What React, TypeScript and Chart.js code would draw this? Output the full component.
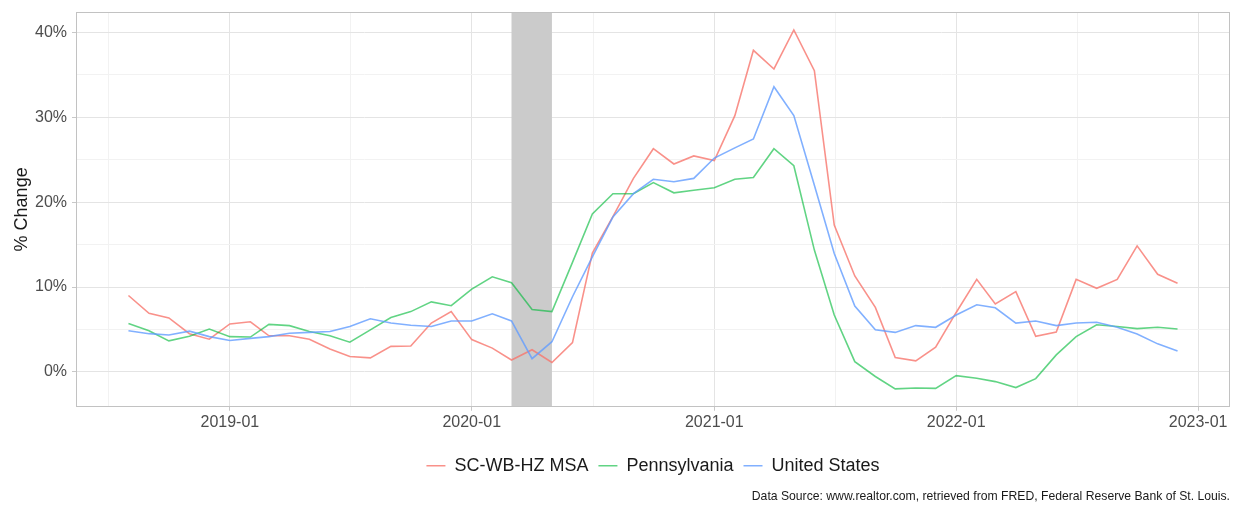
import React, { useEffect, useRef } from 'react';
import { Chart, registerables } from 'chart.js';

Chart.register(...registerables);

// ---- Data (monthly year-over-year % change) ----
const months = [
  '2018-08', '2018-09', '2018-10', '2018-11', '2018-12',
  '2019-01', '2019-02', '2019-03', '2019-04', '2019-05', '2019-06',
  '2019-07', '2019-08', '2019-09', '2019-10', '2019-11', '2019-12',
  '2020-01', '2020-02', '2020-03', '2020-04', '2020-05', '2020-06',
  '2020-07', '2020-08', '2020-09', '2020-10', '2020-11', '2020-12',
  '2021-01', '2021-02', '2021-03', '2021-04', '2021-05', '2021-06',
  '2021-07', '2021-08', '2021-09', '2021-10', '2021-11', '2021-12',
  '2022-01', '2022-02', '2022-03', '2022-04', '2022-05', '2022-06',
  '2022-07', '2022-08', '2022-09', '2022-10', '2022-11', '2022-12',
];

const msaValues = [
  9.0, 6.9, 6.35, 4.5, 3.85,
  5.65, 5.9, 4.25, 4.25, 3.85, 2.7,
  1.8, 1.65, 3.0, 3.05, 5.75, 7.1,
  3.8, 2.8, 1.4, 2.6, 1.1, 3.45,
  14.0, 18.3, 22.8, 26.3, 24.5, 25.45,
  24.9, 30.2, 37.9, 35.7, 40.3, 35.5,
  17.3, 11.3, 7.6, 1.7, 1.3, 2.9,
  7.0, 10.9, 8.0, 9.45, 4.2, 4.7,
  10.9, 9.85, 10.9, 14.85, 11.5, 10.45,
];

const paValues = [
  5.7, 4.85, 3.65, 4.2, 5.05,
  4.15, 4.1, 5.6, 5.45, 4.75, 4.25,
  3.5, 4.95, 6.4, 7.1, 8.25, 7.8,
  9.75, 11.2, 10.5, 7.35, 7.1, 12.9,
  18.6, 21.0, 21.0, 22.3, 21.1, 21.4,
  21.7, 22.7, 22.9, 26.3, 24.3, 14.35,
  6.7, 1.2, -0.55, -2.0, -1.9, -1.95,
  -0.45, -0.75, -1.15, -1.85, -0.8, 2.0,
  4.15, 5.55, 5.35, 5.1, 5.25, 5.05,
];

const usValues = [
  4.85, 4.5, 4.35, 4.8, 4.15,
  3.7, 3.95, 4.15, 4.55, 4.65, 4.75,
  5.35, 6.25, 5.75, 5.5, 5.35, 6.0,
  6.0, 6.85, 6.0, 1.55, 3.55, 8.85,
  13.55, 18.25, 21.0, 22.7, 22.4, 22.8,
  25.2, 26.4, 27.45, 33.6, 30.2, 22.0,
  13.95, 7.75, 4.95, 4.65, 5.45, 5.25,
  6.7, 7.9, 7.55, 5.75, 6.0, 5.45,
  5.75, 5.85, 5.25, 4.45, 3.3, 2.45,
];

const seriesNames = ['SC-WB-HZ MSA', 'Pennsylvania', 'United States'];
const seriesColors = ['rgba(248,118,109,0.8)', 'rgba(0,186,56,0.62)', 'rgba(97,156,255,0.8)'];

const xTickDates = ['2019-01', '2020-01', '2021-01', '2022-01', '2023-01'];
const xTickLabels = ['2019-01', '2020-01', '2021-01', '2022-01', '2023-01'];
const yMajorTicks = [0, 10, 20, 30, 40];
const yMinorTicks = [5, 15, 25, 35];

const recessionStart = '2020-03';
const recessionEnd = '2020-05';

const yTitle = '% Change';
const captionText =
  'Data Source: www.realtor.com, retrieved from FRED, Federal Reserve Bank of St. Louis.';

// ---- helpers ----
const dayOf = (ym: string) => {
  const [y, m] = ym.split('-').map(Number);
  return Date.UTC(y, m - 1, 1) / 86400000;
};

const FONT = "'Liberation Sans', Arial, Helvetica, sans-serif";

export default function App() {
  const canvasRef = useRef<HTMLCanvasElement | null>(null);

  useEffect(() => {
    const canvas = canvasRef.current;
    if (!canvas) return;

    const xs = months.map(dayOf);
    const xMin0 = Math.min(...xs);
    const xMax0 = Math.max(...xs);
    const xPad = (xMax0 - xMin0) * 0.05;
    const xMin = xMin0 - xPad;
    const xMax = xMax0 + xPad;

    const allY = [...msaValues, ...paValues, ...usValues];
    const yMin0 = Math.min(...allY);
    const yMax0 = Math.max(...allY);
    const yPad = (yMax0 - yMin0) * 0.05;
    const yMin = yMin0 - yPad;
    const yMax = yMax0 + yPad;

    const xMajor = xTickDates.map(dayOf);
    const step = xMajor[1] - xMajor[0];
    const xMinor = xMajor
      .map((v, i) => (i === 0 ? v - step / 2 : (xMajor[i - 1] + v) / 2))
      .filter((v) => v >= xMin && v <= xMax);
    const xTicks = [...xMinor, ...xMajor].sort((a, b) => a - b);
    const yTicks = [...yMinorTicks, ...yMajorTicks].sort((a, b) => a - b);

    const seriesValues = [msaValues, paValues, usValues];
    const datasets = seriesValues.map((vals, s) => ({
      label: seriesNames[s],
      data: vals.map((v, i) => ({ x: xs[i], y: v })),
      borderColor: seriesColors[s],
      backgroundColor: seriesColors[s],
      borderWidth: 1.6,
      pointRadius: 0,
      tension: 0,
      fill: false,
      order: seriesValues.length - s,
    }));

    const panelPlugin = {
      id: 'panelDecor',
      beforeDatasetsDraw(chart: any) {
        const { ctx, chartArea, scales } = chart;
        const x0 = scales.x.getPixelForValue(dayOf(recessionStart));
        const x1 = scales.x.getPixelForValue(dayOf(recessionEnd));
        ctx.save();
        ctx.fillStyle = '#cbcbcb';
        ctx.fillRect(x0, chartArea.top, x1 - x0, chartArea.bottom - chartArea.top);
        ctx.restore();
      },
      afterDraw(chart: any) {
        const { ctx, chartArea } = chart;
        ctx.save();
        ctx.strokeStyle = '#c2c2c2';
        ctx.lineWidth = 1;
        ctx.strokeRect(
          Math.round(chartArea.left) + 0.5,
          Math.round(chartArea.top) + 0.5,
          Math.round(chartArea.right - chartArea.left) - 1,
          Math.round(chartArea.bottom - chartArea.top) - 1
        );
        ctx.restore();
      },
    };

    const isMajorX = (v: number) => xMajor.some((m) => Math.abs(m - v) < 1e-6);
    const isMajorY = (v: number) => yMajorTicks.some((m) => Math.abs(m - v) < 1e-6);

    const chart = new Chart(canvas, {
      type: 'line',
      data: { datasets },
      plugins: [panelPlugin],
      options: {
        animation: false,
        responsive: false,
        maintainAspectRatio: false,
        devicePixelRatio: 1,
        layout: { padding: { top: 12, right: 11, left: 0, bottom: 0 } },
        scales: {
          x: {
            type: 'linear',
            min: xMin,
            max: xMax,
            afterBuildTicks: (scale: any) => {
              scale.ticks = xTicks.map((v) => ({ value: v }));
            },
            afterFit: (scale: any) => {
              scale.height = 40;
              scale.paddingLeft = 0;
              scale.paddingRight = 0;
            },
            border: { display: false },
            grid: {
              color: (c: any) => (isMajorX(c.tick.value) ? '#e4e4e4' : '#f2f2f2'),
              lineWidth: 1,
              tickLength: 4,
              tickColor: (c: any) => (isMajorX(c.tick.value) ? '#c8c8c8' : 'rgba(0,0,0,0)'),
            },
            ticks: {
              autoSkip: false,
              maxRotation: 0,
              padding: 2,
              color: '#4d4d4d',
              font: { family: FONT, size: 16 },
              callback: (v: any) => {
                const i = xMajor.findIndex((m) => Math.abs(m - Number(v)) < 1e-6);
                return i >= 0 ? xTickLabels[i] : '';
              },
            },
          },
          y: {
            type: 'linear',
            min: yMin,
            max: yMax,
            afterBuildTicks: (scale: any) => {
              scale.ticks = yTicks.map((v) => ({ value: v }));
            },
            afterFit: (scale: any) => {
              scale.width = 76;
              scale.paddingTop = 0;
              scale.paddingBottom = 0;
            },
            border: { display: false },
            grid: {
              color: (c: any) => (isMajorY(c.tick.value) ? '#e4e4e4' : '#f2f2f2'),
              lineWidth: 1,
              tickLength: 4,
              tickColor: (c: any) => (isMajorY(c.tick.value) ? '#c8c8c8' : 'rgba(0,0,0,0)'),
            },
            ticks: {
              autoSkip: false,
              padding: 5,
              color: '#4d4d4d',
              font: { family: FONT, size: 16 },
              callback: (v: any) => (isMajorY(Number(v)) ? `${v}%` : ''),
            },
            title: {
              display: true,
              text: yTitle,
              color: '#1a1a1a',
              font: { family: FONT, size: 18 },
              padding: { top: 11, bottom: 0 },
            },
          },
        },
        plugins: {
          legend: {
            display: true,
            position: 'bottom',
            fullSize: false,
            labels: {
              usePointStyle: true,
              pointStyle: 'line',
              pointStyleWidth: 19,
              padding: 10,
              color: '#1a1a1a',
              font: { family: FONT, size: 18 },
              sort: (a: any, b: any) => a.datasetIndex - b.datasetIndex,
            },
          },
          title: {
            display: true,
            position: 'bottom',
            align: 'end',
            text: captionText,
            color: '#1a1a1a',
            font: { family: FONT, size: 12.2, weight: 'normal' },
            padding: { top: 4.8, bottom: 1.8 },
          },
          tooltip: { enabled: false },
        },
      },
    } as any);

    return () => chart.destroy();
  }, []);

  return (
    <div style={{ position: 'absolute', left: 0, top: 0, width: 1241, height: 506, background: '#ffffff' }}>
      <canvas ref={canvasRef} width={1241} height={506} style={{ display: 'block' }} />
    </div>
  );
}
